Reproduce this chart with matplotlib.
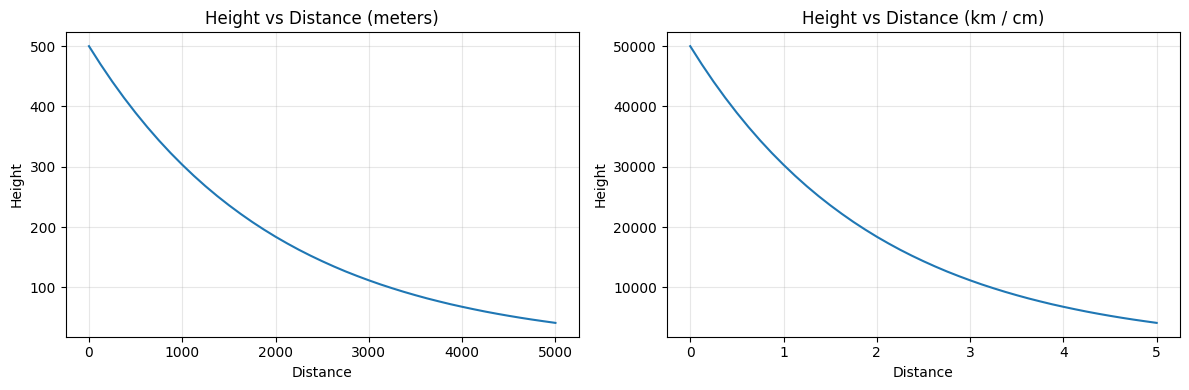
import matplotlib.pyplot as plt

# Distance (m) and height (m)
distance_m = [0, 125, 250, 375, 500, 625, 750, 875, 1000, 1125, 1250,
              1375, 1500, 1625, 1750, 1875, 2000, 2125, 2250, 2375, 2500,
              2625, 2750, 2875, 3000, 3125, 3250, 3375, 3500, 3625, 3750,
              3875, 4000, 4125, 4250, 4375, 4500, 4625, 4750, 4875, 5000]
height_m = [500, 469.7, 441.2, 414.5, 389.4, 365.8, 343.6, 322.8, 303.3, 284.9, 267.6,
            251.4, 236.2, 221.9, 208.4, 195.8, 183.9, 172.8, 162.3, 152.5, 143.3,
            134.6, 126.4, 118.8, 111.6, 104.8, 98.5, 92.5, 86.9, 81.6, 76.7,
            72.0, 67.7, 63.6, 59.7, 56.1, 52.7, 49.5, 46.5, 43.7, 41.0]

# Same curve in km / cm
distance_km = [d / 1000 for d in distance_m]
height_cm = [h * 100 for h in height_m]

fig, (ax1, ax2) = plt.subplots(1, 2, figsize=(12, 4), dpi=100)

ax1.plot(distance_m, height_m)
ax1.set_title("Height vs Distance (meters)")
ax1.set_xlabel("Distance")
ax1.set_ylabel("Height")
ax1.grid(True, alpha=0.3)

ax2.plot(distance_km, height_cm)
ax2.set_title("Height vs Distance (km / cm)")
ax2.set_xlabel("Distance")
ax2.set_ylabel("Height")
ax2.grid(True, alpha=0.3)

plt.tight_layout()
plt.savefig("out.png", bbox_inches="tight")
